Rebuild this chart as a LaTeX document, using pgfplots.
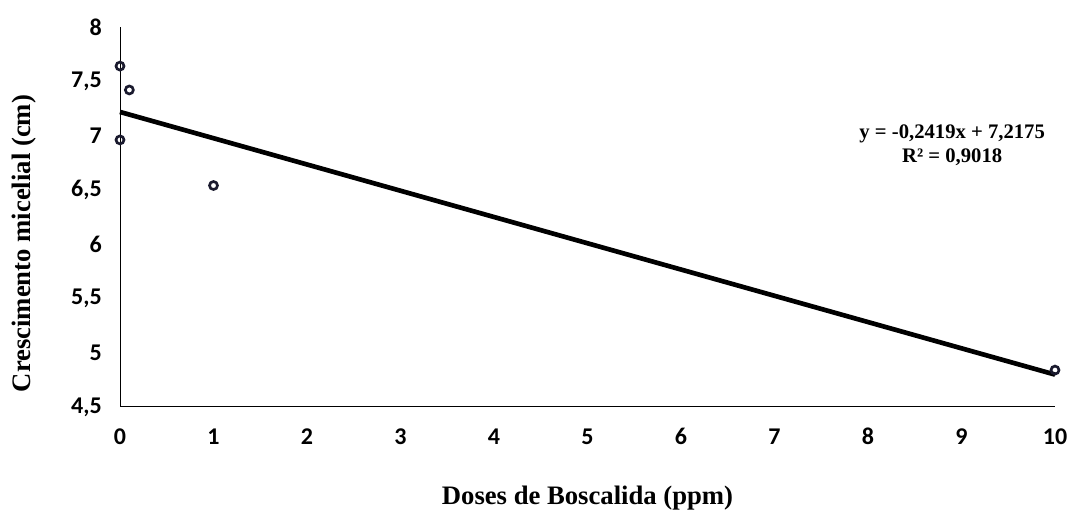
\documentclass[border=0pt]{standalone}
\usepackage{fontspec}
\setmainfont{Liberation Serif}
\newfontfamily\carlito{Carlito}
\usepackage{pgfplots}
\pgfplotsset{compat=1.18}
\definecolor{markcol}{HTML}{1A1A2E}
\begin{document}
\begin{tikzpicture}
\useasboundingbox (0,0) rectangle (802.5pt,384.75pt);
\begin{axis}[
  at={(90pt,79.5pt)}, anchor=south west,
  scale only axis, width=701.25pt, height=285pt,
  xmin=0, xmax=10, ymin=4.5, ymax=8,
  axis x line=bottom, axis y line=left,
  axis line style={-, line width=0.75pt},
  xtick={0,1,...,10},
  ytick={4.5,5,5.5,6,6.5,7,7.5,8},
  major tick length=0pt,
  /pgf/number format/assume math mode=true,
  /pgf/number format/use comma,
  tick label style={font=\carlito\bfseries\fontsize{18}{20}\selectfont},
  xticklabel style={anchor=base, inner sep=0pt, yshift=-28pt},
  yticklabel style={anchor=east, inner sep=0pt, xshift=-13.5pt},
  xlabel={Doses de Boscalida (ppm)},
  ylabel={Crescimento micelial (cm)},
  label style={font=\bfseries\fontsize{20}{24}\selectfont},
  xlabel style={at={(axis description cs:0.5,-0.2395)}, anchor=center},
  ylabel style={at={(axis description cs:-0.1027,0.43)}, anchor=center},
  clip=false,
]
\addplot[black, line width=3.5pt] coordinates {(0,7.2175) (10,4.7985)};
\addplot[only marks, mark=o, mark size=3pt, mark options={draw=markcol, line width=2pt, fill=white}]
  coordinates {(0,7.64) (0.1,7.42) (0,6.96) (1,6.54) (10,4.84)};
\node[align=center, font=\bfseries\fontsize{15.5}{18}\selectfont] at (axis cs:8.9,6.913)
  {y = -0,2419x + 7,2175\\R² = 0,9018};
\end{axis}
\end{tikzpicture}
\end{document}
